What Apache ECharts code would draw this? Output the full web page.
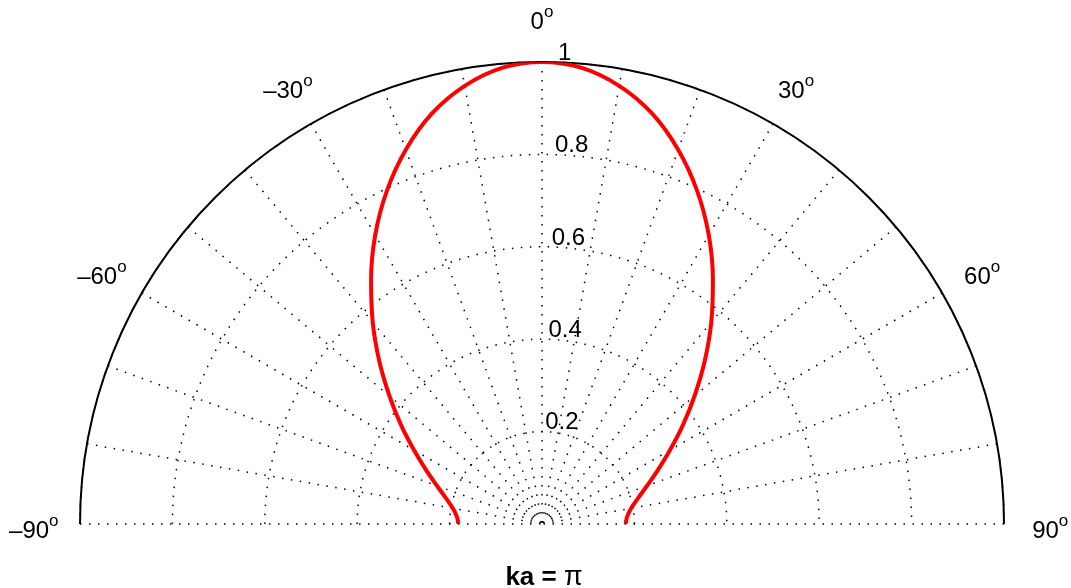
<!DOCTYPE html>
<html>
<head>
<meta charset="utf-8">
<title>ka = π</title>
<script src="https://cdn.jsdelivr.net/npm/echarts@6/dist/echarts.min.js"></script>
<style>
  html, body { margin: 0; padding: 0; background: #ffffff; }
  #chart { width: 1071px; height: 588px; }
</style>
</head>
<body>
<div id="chart"></div>
<script>
// Directivity of a baffled piston, normalised pressure vs. angle (degrees)
const angles = [-90, -85, -80, -75, -70, -65, -60, -55, -50, -45, -40, -35, -30, -25, -20, -15, -10, -5,
                0, 5, 10, 15, 20, 25, 30, 35, 40, 45, 50, 55, 60, 65, 70, 75, 80, 85, 90];
const pressure = [0.181, 0.185, 0.196, 0.215, 0.242, 0.277, 0.320, 0.372, 0.431, 0.498, 0.570, 0.645, 0.722, 0.795, 0.862, 0.920, 0.963, 0.991,
                  1.000, 0.991, 0.963, 0.920, 0.862, 0.795, 0.722, 0.645, 0.570, 0.498, 0.431, 0.372, 0.320, 0.277, 0.242, 0.215, 0.196, 0.185, 0.181];
const radiusTicks = [0.2, 0.4, 0.6, 0.8, 1];
const angleTicks = [-90, -60, -30, 0, 30, 60, 90];
const titleText = 'ka = π';

const FONT = '"Liberation Sans", Arial, Helvetica, sans-serif';
const dotted = { color: '#000000', width: 1.5, type: [1.5, 7.5] };

const chart = echarts.init(document.getElementById('chart'), null, { renderer: 'canvas' });

const option = {
  backgroundColor: '#ffffff',
  animation: false,
  polar: { center: [542, 524], radius: 462 },
  angleAxis: {
    type: 'value',
    min: -90,
    max: 90,
    interval: 10,
    startAngle: 180,
    endAngle: 0,
    clockwise: true,
    axisLine: { show: true, lineStyle: { color: '#000000', width: 2 } },
    axisTick: { show: false },
    axisLabel: { show: false },
    splitLine: { show: true, lineStyle: dotted }
  },
  radiusAxis: {
    type: 'value',
    min: 0,
    max: 1,
    interval: 0.2,
    axisLine: { show: false },
    axisTick: { show: false },
    axisLabel: { show: false },
    splitLine: { show: true, lineStyle: dotted }
  },
  series: [
    {
      name: 'pattern',
      type: 'line',
      coordinateSystem: 'polar',
      data: angles.map((a, i) => [pressure[i], a]),
      smooth: 0.35,
      showSymbol: false,
      silent: true,
      lineStyle: { color: '#ff0000', width: 4 },
      z: 5
    },
    {
      name: 'radius labels',
      type: 'scatter',
      coordinateSystem: 'polar',
      data: radiusTicks.map(r => [r, 2]),
      symbolSize: 0,
      silent: true,
      itemStyle: { opacity: 1 },
      label: {
        show: true,
        position: [0, 0],
        align: 'left',
        verticalAlign: 'bottom',
        offset: [0, 3],
        fontFamily: FONT,
        fontSize: 24,
        color: '#000000',
        formatter: p => String(p.value[0])
      },
      z: 6
    },
    {
      name: 'angle labels',
      type: 'scatter',
      coordinateSystem: 'polar',
      clip: false,
      data: angleTicks.map(a => [1.1, a]),
      symbolSize: 0,
      silent: true,
      itemStyle: { opacity: 1 },
      label: {
        show: true,
        position: [0, 0],
        align: 'center',
        verticalAlign: 'middle',
        offset: [0, 7],
        color: '#000000',
        formatter: p => {
          const a = p.value[1];
          const txt = a < 0 ? '\u2013' + Math.abs(a) : String(a);
          return '{n|' + txt + '}{s|o}';
        },
        rich: {
          n: { fontFamily: FONT, fontSize: 24, color: '#000000' },
          s: { fontFamily: FONT, fontSize: 17, color: '#000000', padding: [0, 0, 20, 0] }
        }
      },
      z: 6
    }
  ],
  graphic: [
    {
      type: 'text',
      x: 544,
      y: 578,
      style: {
        text: '{b|ka = }{p|π}',
        align: 'center',
        verticalAlign: 'middle',
        rich: {
          b: { fontFamily: FONT, fontSize: 26, fontWeight: 'bold', fill: '#000000' },
          p: { fontFamily: FONT, fontSize: 27, fill: '#000000' }
        }
      }
    }
  ]
};

chart.setOption(option);
</script>
</body>
</html>
